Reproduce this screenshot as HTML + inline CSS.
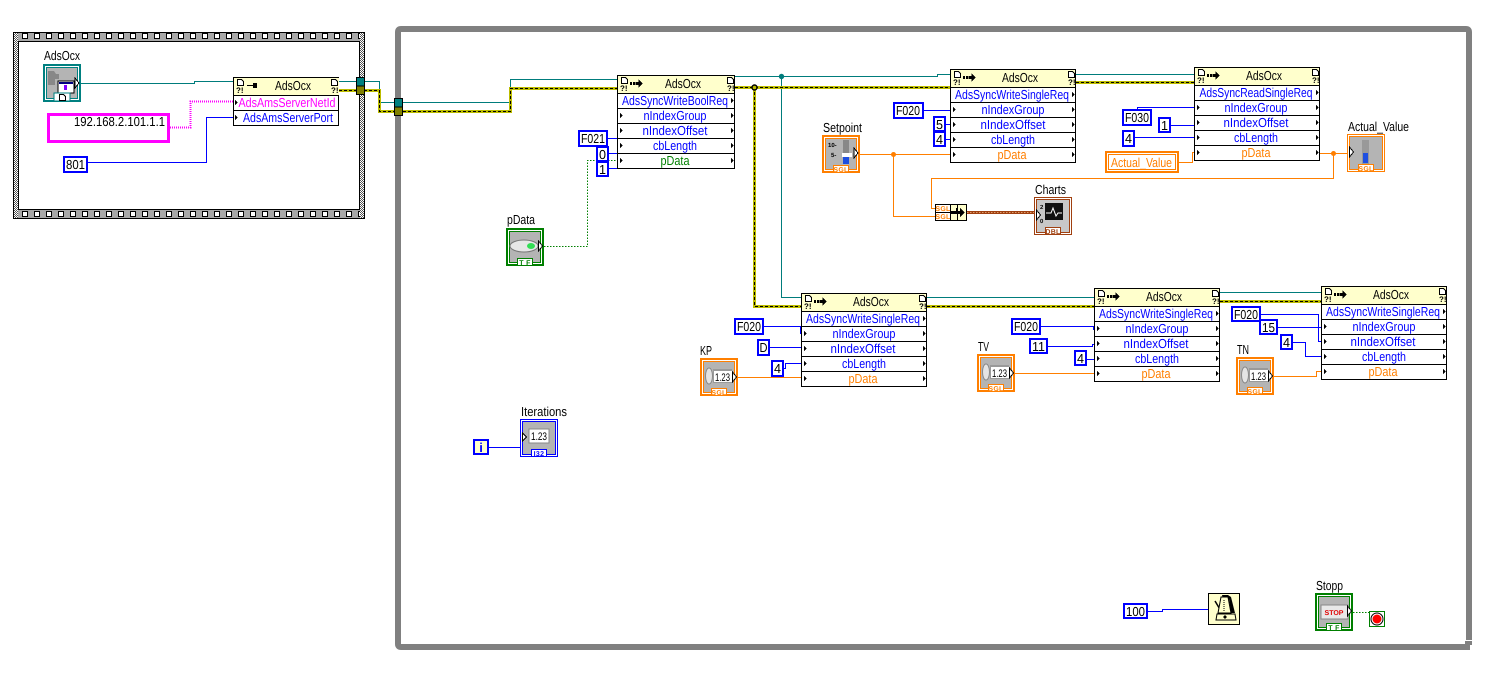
<!DOCTYPE html>
<html><head><meta charset="utf-8"><style>
html,body{margin:0;padding:0;background:#fff;width:1500px;height:675px;overflow:hidden}
svg{display:block}
text{font-family:"Liberation Sans",sans-serif;font-size:13px;fill:#000;text-rendering:geometricPrecision}
.m{text-anchor:middle}.b{fill:#00f}.o{fill:#ff7f00}.g{fill:#007f00}.p{fill:#f0f}
.q{font-size:8px;font-weight:bold}.t{font-size:7px;font-weight:bold;letter-spacing:.3px;text-anchor:middle}
.w{fill:none;stroke-width:1;shape-rendering:crispEdges}
.bl{stroke:#00f}.te{stroke:#007c7c}.or{stroke:#ff7f00}
.e1{fill:none;stroke:#bcbc00;stroke-width:3;shape-rendering:crispEdges}
.e2{fill:none;stroke:#000;stroke-width:1;stroke-dasharray:3 2;shape-rendering:crispEdges}
.c{fill:#fff;stroke:#00f;stroke-width:2;shape-rendering:crispEdges}
</style></head><body>
<svg width="1500" height="675" viewBox="0 0 1500 675" xmlns="http://www.w3.org/2000/svg">
<defs>
<pattern id="ht" x="22" y="33" width="12" height="10" patternUnits="userSpaceOnUse"><rect x=".5" y=".5" width="5" height="5" fill="#fff" stroke="#000"/></pattern>
<pattern id="hb" x="22" y="211" width="12" height="10" patternUnits="userSpaceOnUse"><rect x=".5" y=".5" width="5" height="5" fill="#fff" stroke="#000"/></pattern>
<pattern id="dz" width="2" height="2" patternUnits="userSpaceOnUse"><rect width="2" height="2" fill="#fff"/><rect width="1" height="1" fill="#555"/><rect x="1" y="1" width="1" height="1" fill="#555"/></pattern>
<g id="tl"><path d="M0 0l3 2.500-3 2.500z" fill="#000"/></g>
<g id="doc"><path d="M.5 .5h4l2 2v4h-6z" fill="#fff" stroke="#000" shape-rendering="crispEdges"/><path d="M0 0h5v1h-5z" fill="#000"/></g>
<g id="arr"><path d="M13 7h2v3h-2zM16 7h2v3h-2zM18.500 7h3v-3l4 4.500-4 4.500v-3h-3z" fill="#000"/></g>
<g id="nd126" shape-rendering="crispEdges">
<rect x=".5" y=".5" width="125" height="93" fill="#fff" stroke="#000"/>
<rect x="1" y="1" width="124" height="17" fill="#ffffcc"/>
<path d="M0 18.500h126M0 33.500h126M0 48.500h126M0 63.500h126M0 78.500h126" stroke="#000"/>
<use href="#doc" x="4" y="2"/><use href="#doc" x="118" y="2"/>
<use href="#arr"/>
<use href="#tl" x="122" y="23"/><use href="#tl" x="3" y="38"/><use href="#tl" x="122" y="38"/><use href="#tl" x="3" y="53"/><use href="#tl" x="122" y="53"/><use href="#tl" x="3" y="68"/><use href="#tl" x="122" y="68"/><use href="#tl" x="3" y="83"/><use href="#tl" x="122" y="83"/>
</g>
<g id="nd118" shape-rendering="crispEdges">
<rect x=".5" y=".5" width="117" height="93" fill="#fff" stroke="#000"/>
<rect x="1" y="1" width="116" height="17" fill="#ffffcc"/>
<path d="M0 18.500h118M0 33.500h118M0 48.500h118M0 63.500h118M0 78.500h118" stroke="#000"/>
<use href="#doc" x="4" y="2"/><use href="#doc" x="110" y="2"/>
<use href="#arr"/>
<use href="#tl" x="114" y="23"/><use href="#tl" x="3" y="38"/><use href="#tl" x="114" y="38"/><use href="#tl" x="3" y="53"/><use href="#tl" x="114" y="53"/><use href="#tl" x="3" y="68"/><use href="#tl" x="114" y="68"/><use href="#tl" x="3" y="83"/><use href="#tl" x="114" y="83"/>
</g>
<g id="numc">
<rect x="5" y="4" width="28" height="27" fill="#b4b4b4"/>
<ellipse cx="9" cy="18" rx="3.500" ry="8" fill="#e4e4e4" stroke="#888"/>
<rect x="13" y="11" width="19" height="14" fill="#9a9a9a"/><rect x="14" y="13" width="18" height="11" fill="#fff"/>
<path d="M32.500 14l4 5-4 5z" fill="#fff" stroke="#000" shape-rendering="crispEdges"/>
</g>
<g id="frameO" shape-rendering="crispEdges">
<rect x="0" y="0" width="38" height="38" fill="#ff7f00"/><rect x="2" y="2" width="34" height="34" fill="#fff"/><rect x="3" y="3" width="32" height="32" fill="#ff7f00"/><rect x="4" y="4" width="30" height="30" fill="#b4b4b4"/>
</g>
</defs>

<!-- Sequence frame -->
<g shape-rendering="crispEdges">
<rect x="13.500" y="32.500" width="351" height="186" fill="url(#dz)" stroke="#000"/>
<rect x="18" y="33" width="342" height="9" fill="#a8a8a8"/><rect x="18" y="33" width="342" height="9" fill="url(#ht)"/>
<rect x="18" y="210" width="342" height="8" fill="#a8a8a8"/><rect x="18" y="210" width="342" height="8" fill="url(#hb)"/>
<rect x="18.500" y="41.500" width="341" height="168" fill="#fff" stroke="#000"/>
</g>

<!-- While loop -->
<path d="M1469 640V32q0-3-3-3H401q-3 0-3 3V644q0 3 3 3H1467" fill="none" stroke="#808080" stroke-width="6"/>
<path d="M1465 641h7v4h-2v5h-5z" fill="#808080" shape-rendering="crispEdges"/>

<!-- Wires: reference -->
<g class="w te">
<path d="M81 83.500H194.500V81.500H233"/>
<path d="M339 81.500H379.500V102.500H394"/>
<path d="M403 102.500H510.500V79.500H617"/>
<path d="M735 76.500H937.500V74.500H950"/>
<path d="M781.500 76V297.500H801"/>
<path d="M927 297.500H1094"/>
<path d="M1220 292.500H1321"/>
<path d="M1076 74.500H1194"/>
</g>
<circle cx="781.500" cy="76.500" r="2.700" fill="#007c7c"/>

<!-- Wires: error -->
<g class="e1">
<path d="M339 90.500H379.500V111.500H394"/><path d="M403 111.500H510.500V88.500H617"/>
<path d="M735 87.500H950"/><path d="M754.500 87V306.500H801"/>
<path d="M1076 82.500H1194"/><path d="M927 306.500H1094"/><path d="M1220 301.500H1321"/>
</g>
<g class="e2">
<path d="M339 90.500H379.500V111.500H394"/><path d="M403 111.500H510.500V88.500H617"/>
<path d="M735 87.500H950"/><path d="M754.500 87V306.500H801"/>
<path d="M1076 82.500H1194"/><path d="M927 306.500H1094"/><path d="M1220 301.500H1321"/>
</g>
<circle cx="754.500" cy="87.500" r="2.500" fill="#bcbc00" stroke="#000" stroke-width="1.500"/>

<!-- Wires: string -->
<path d="M170 127.500H190.500V101.500H233" fill="none" stroke="#f0f" stroke-width="2" stroke-dasharray="1 1" shape-rendering="crispEdges"/>

<!-- Wires: numeric -->
<g class="w bl">
<path d="M88 162.500H206.500V117.500H233"/>
<path d="M608 138.500H617M608 153.500H617M608 168.500H617"/>
<path d="M923 110.500H950M945 124.500H950M945 139.500H950"/>
<path d="M1137.500 109V107.500H1194M1171 125.500H1194M1135 137.500H1194"/>
<path d="M764 326.500H800.500V333.500H801M770 347.500H801M784 368.500H785.500V363.500H801"/>
<path d="M1041 326.500H1093.500V329.500H1094M1048 346.500H1092.500V344.500H1094M1087 359.500H1094"/>
<path d="M1261 314.500H1318.500V341.500H1321M1278 327.500H1321M1293 342.500H1305.500V356.500H1321"/>
<path d="M1148 611.500H1162.500V609.500H1208"/>
<path d="M489 447.500H520"/>
</g>

<!-- Wires: orange -->
<g class="w or">
<path d="M860 154.500H950"/><path d="M893.500 154V216.500H935"/>
<path d="M935 208.500H931.500V178.500H1333.500V153.500"/>
<path d="M1320 153.500H1347"/>
<path d="M1179 162.500H1192.500V152.500H1194"/>
<path d="M738 377.500H801"/><path d="M1015 373.500H1094"/>
<path d="M1274 376.500H1316.500V371.500H1321"/>
</g>
<circle cx="893.500" cy="154.500" r="2.500" fill="#ff7f00"/><circle cx="1333.500" cy="153.500" r="2.500" fill="#ff7f00"/>

<!-- Boolean wires -->
<path d="M544 246.500H587.500V160.500H617" fill="none" stroke="#007f00" stroke-dasharray="1.500 1.500" shape-rendering="crispEdges"/>
<path d="M1353 612.500H1369" fill="none" stroke="#007f00" stroke-dasharray="1.500 1.500" shape-rendering="crispEdges"/>

<!-- Cluster wire -->
<path d="M967 212.500H1034" fill="none" stroke="#a04010" stroke-width="3" shape-rendering="crispEdges"/>
<path d="M967 212.500H1034" fill="none" stroke="#e0a070" stroke-dasharray="1.500 1.500" shape-rendering="crispEdges"/>

<!-- Tunnels -->
<g shape-rendering="crispEdges" stroke="#000">
<rect x="356.500" y="77.500" width="8" height="8.500" fill="#008080"/><rect x="356.500" y="86" width="8" height="8.500" fill="#808000"/>
<rect x="394.500" y="98.500" width="8" height="8.500" fill="#008080"/><rect x="394.500" y="107" width="8" height="8.500" fill="#808000"/>
</g>

<!-- Node 1 -->
<g transform="translate(233,77)" shape-rendering="crispEdges">
<rect x=".5" y=".5" width="105" height="48" fill="#fff" stroke="#000"/>
<rect x="1" y="1" width="105" height="17" fill="#ffffcc"/>
<path d="M0 18.500h106M0 33.500h106" stroke="#000"/>
<use href="#doc" x="4" y="2"/><use href="#doc" x="98" y="2"/>
<path d="M14 8h6v-2h4v5h-4v-2h-6z" fill="#000"/>
<use href="#tl" x="2" y="23"/><use href="#tl" x="2" y="38"/>
</g>
<text class="q" x="236" y="93">?!</text><text class="q" x="331" y="93">?!</text>
<text class="m" x="293" y="90" textLength="36" lengthAdjust="spacingAndGlyphs">AdsOcx</text>
<text class="m p" x="287" y="107" textLength="97" lengthAdjust="spacingAndGlyphs">AdsAmsServerNetId</text>
<text class="m b" x="288" y="122" textLength="90" lengthAdjust="spacingAndGlyphs">AdsAmsServerPort</text>

<!-- Node 2 -->
<use href="#nd118" x="617" y="75"/>
<text class="q" x="620" y="91">?!</text><text class="q" x="727" y="91">?!</text>
<text class="m" x="683" y="88" textLength="36" lengthAdjust="spacingAndGlyphs">AdsOcx</text>
<text class="m b" x="675" y="105" textLength="106" lengthAdjust="spacingAndGlyphs">AdsSyncWriteBoolReq</text>
<text class="m b" x="675" y="120" textLength="63" lengthAdjust="spacingAndGlyphs">nIndexGroup</text>
<text class="m b" x="675" y="135" textLength="65" lengthAdjust="spacingAndGlyphs">nIndexOffset</text>
<text class="m b" x="675" y="150" textLength="44" lengthAdjust="spacingAndGlyphs">cbLength</text>
<text class="m g" x="675" y="165" textLength="29" lengthAdjust="spacingAndGlyphs">pData</text>

<!-- Node 3 -->
<use href="#nd126" x="950" y="69"/>
<text class="q" x="953" y="85">?!</text><text class="q" x="1068" y="85">?!</text>
<text class="m" x="1020" y="82" textLength="36" lengthAdjust="spacingAndGlyphs">AdsOcx</text>
<text class="m b" x="1012" y="99" textLength="114" lengthAdjust="spacingAndGlyphs">AdsSyncWriteSingleReq</text>
<text class="m b" x="1013" y="114" textLength="63" lengthAdjust="spacingAndGlyphs">nIndexGroup</text>
<text class="m b" x="1013" y="129" textLength="65" lengthAdjust="spacingAndGlyphs">nIndexOffset</text>
<text class="m b" x="1013" y="144" textLength="44" lengthAdjust="spacingAndGlyphs">cbLength</text>
<text class="m o" x="1012" y="159" textLength="29" lengthAdjust="spacingAndGlyphs">pData</text>

<!-- Node 4 -->
<use href="#nd126" x="1194" y="67"/>
<text class="q" x="1197" y="83">?!</text><text class="q" x="1312" y="83">?!</text>
<text class="m" x="1264" y="80" textLength="36" lengthAdjust="spacingAndGlyphs">AdsOcx</text>
<text class="m b" x="1256" y="97" textLength="113" lengthAdjust="spacingAndGlyphs">AdsSyncReadSingleReq</text>
<text class="m b" x="1256" y="112" textLength="63" lengthAdjust="spacingAndGlyphs">nIndexGroup</text>
<text class="m b" x="1256" y="127" textLength="65" lengthAdjust="spacingAndGlyphs">nIndexOffset</text>
<text class="m b" x="1256" y="142" textLength="44" lengthAdjust="spacingAndGlyphs">cbLength</text>
<text class="m o" x="1256" y="157" textLength="29" lengthAdjust="spacingAndGlyphs">pData</text>

<!-- Node 5 -->
<use href="#nd126" x="801" y="293"/>
<text class="q" x="804" y="309">?!</text><text class="q" x="919" y="309">?!</text>
<text class="m" x="871" y="306" textLength="36" lengthAdjust="spacingAndGlyphs">AdsOcx</text>
<text class="m b" x="863" y="323" textLength="114" lengthAdjust="spacingAndGlyphs">AdsSyncWriteSingleReq</text>
<text class="m b" x="864" y="338" textLength="63" lengthAdjust="spacingAndGlyphs">nIndexGroup</text>
<text class="m b" x="863" y="353" textLength="65" lengthAdjust="spacingAndGlyphs">nIndexOffset</text>
<text class="m b" x="864" y="368" textLength="44" lengthAdjust="spacingAndGlyphs">cbLength</text>
<text class="m o" x="863" y="383" textLength="29" lengthAdjust="spacingAndGlyphs">pData</text>

<!-- Node 6 -->
<use href="#nd126" x="1094" y="288"/>
<text class="q" x="1097" y="304">?!</text><text class="q" x="1212" y="304">?!</text>
<text class="m" x="1164" y="301" textLength="36" lengthAdjust="spacingAndGlyphs">AdsOcx</text>
<text class="m b" x="1156" y="318" textLength="114" lengthAdjust="spacingAndGlyphs">AdsSyncWriteSingleReq</text>
<text class="m b" x="1157" y="333" textLength="63" lengthAdjust="spacingAndGlyphs">nIndexGroup</text>
<text class="m b" x="1156" y="348" textLength="65" lengthAdjust="spacingAndGlyphs">nIndexOffset</text>
<text class="m b" x="1157" y="363" textLength="44" lengthAdjust="spacingAndGlyphs">cbLength</text>
<text class="m o" x="1156" y="378" textLength="29" lengthAdjust="spacingAndGlyphs">pData</text>

<!-- Node 7 -->
<use href="#nd126" x="1321" y="286"/>
<text class="q" x="1324" y="302">?!</text><text class="q" x="1439" y="302">?!</text>
<text class="m" x="1391" y="299" textLength="36" lengthAdjust="spacingAndGlyphs">AdsOcx</text>
<text class="m b" x="1383" y="316" textLength="114" lengthAdjust="spacingAndGlyphs">AdsSyncWriteSingleReq</text>
<text class="m b" x="1384" y="331" textLength="63" lengthAdjust="spacingAndGlyphs">nIndexGroup</text>
<text class="m b" x="1383" y="346" textLength="65" lengthAdjust="spacingAndGlyphs">nIndexOffset</text>
<text class="m b" x="1384" y="361" textLength="44" lengthAdjust="spacingAndGlyphs">cbLength</text>
<text class="m o" x="1383" y="376" textLength="29" lengthAdjust="spacingAndGlyphs">pData</text>

<!-- Constants -->
<rect x="48.500" y="114.500" width="120" height="27" fill="#fff" stroke="#f0f" stroke-width="3" shape-rendering="crispEdges"/>
<text x="74" y="126" textLength="91" lengthAdjust="spacingAndGlyphs">192.168.2.101.1.1</text>
<rect class="c" x="64" y="157" width="23" height="15"/><text x="66" y="169" textLength="19" lengthAdjust="spacingAndGlyphs">801</text>

<rect class="c" x="579" y="131" width="28" height="15"/><text x="581" y="143" textLength="24" lengthAdjust="spacingAndGlyphs">F021</text>
<rect class="c" x="597" y="147" width="11" height="14"/><text class="m" x="602.500" y="159" textLength="7" lengthAdjust="spacingAndGlyphs">0</text>
<rect class="c" x="597" y="162" width="11" height="14"/><text class="m" x="602.500" y="174" textLength="7" lengthAdjust="spacingAndGlyphs">1</text>

<rect class="c" x="894" y="103" width="29" height="15"/><text x="896" y="115" textLength="24" lengthAdjust="spacingAndGlyphs">F020</text>
<rect class="c" x="934" y="117" width="11" height="14"/><text class="m" x="939.500" y="129" textLength="7" lengthAdjust="spacingAndGlyphs">5</text>
<rect class="c" x="934" y="132" width="11" height="14"/><text class="m" x="939.500" y="144" textLength="7" lengthAdjust="spacingAndGlyphs">4</text>

<rect class="c" x="1123" y="110" width="28" height="15"/><text x="1125" y="122" textLength="24" lengthAdjust="spacingAndGlyphs">F030</text>
<rect class="c" x="1159" y="118" width="11" height="14"/><text class="m" x="1164.500" y="130" textLength="7" lengthAdjust="spacingAndGlyphs">1</text>
<rect class="c" x="1123" y="131" width="11" height="15"/><text class="m" x="1128.500" y="143" textLength="7" lengthAdjust="spacingAndGlyphs">4</text>

<g shape-rendering="crispEdges">
<rect x="1105" y="151" width="74" height="22" fill="#ff7f00"/><rect x="1107" y="153" width="70" height="18" fill="#fff"/><rect x="1108.500" y="154.500" width="67" height="15" fill="#fff" stroke="#ff7f00"/>
</g>
<text class="o" x="1111" y="167" textLength="61" lengthAdjust="spacingAndGlyphs">Actual_Value</text>

<rect class="c" x="735" y="319" width="28" height="15"/><text x="737" y="331" textLength="24" lengthAdjust="spacingAndGlyphs">F020</text>
<rect class="c" x="758" y="340" width="11" height="15"/><text class="m" x="763.500" y="352" textLength="8" lengthAdjust="spacingAndGlyphs">D</text>
<rect class="c" x="772" y="361" width="11" height="15"/><text class="m" x="777.500" y="373" textLength="7" lengthAdjust="spacingAndGlyphs">4</text>

<rect class="c" x="1012" y="319" width="28" height="15"/><text x="1014" y="331" textLength="24" lengthAdjust="spacingAndGlyphs">F020</text>
<rect class="c" x="1030" y="339" width="17" height="14"/><text class="m" x="1038.500" y="351" textLength="13" lengthAdjust="spacingAndGlyphs">11</text>
<rect class="c" x="1075" y="351" width="11" height="14"/><text class="m" x="1080.500" y="363" textLength="7" lengthAdjust="spacingAndGlyphs">4</text>

<rect class="c" x="1232" y="307" width="28" height="14"/><text x="1234" y="319" textLength="24" lengthAdjust="spacingAndGlyphs">F020</text>
<rect class="c" x="1260" y="320" width="17" height="14"/><text class="m" x="1268.500" y="332" textLength="13" lengthAdjust="spacingAndGlyphs">15</text>
<rect class="c" x="1281" y="335" width="11" height="14"/><text class="m" x="1286.500" y="347" textLength="7" lengthAdjust="spacingAndGlyphs">4</text>

<rect class="c" x="1124" y="604" width="23" height="14"/><text x="1126" y="616" textLength="19" lengthAdjust="spacingAndGlyphs">100</text>

<rect x="474" y="440" width="14" height="14" fill="#ffffcc" stroke="#00f" stroke-width="2" shape-rendering="crispEdges"/>
<text class="m b" x="481" y="452" font-weight="bold">i</text>

<!-- Labels -->
<text x="44" y="60" textLength="36" lengthAdjust="spacingAndGlyphs">AdsOcx</text>
<text x="507" y="224" textLength="28" lengthAdjust="spacingAndGlyphs">pData</text>
<text x="823" y="132" textLength="39" lengthAdjust="spacingAndGlyphs">Setpoint</text>
<text x="1348" y="131" textLength="61" lengthAdjust="spacingAndGlyphs">Actual_Value</text>
<text x="1035" y="194" textLength="31" lengthAdjust="spacingAndGlyphs">Charts</text>
<text x="700" y="355" textLength="12" lengthAdjust="spacingAndGlyphs">KP</text>
<text x="978" y="351" textLength="11" lengthAdjust="spacingAndGlyphs">TV</text>
<text x="1237" y="354" textLength="12" lengthAdjust="spacingAndGlyphs">TN</text>
<text x="521" y="416" textLength="46" lengthAdjust="spacingAndGlyphs">Iterations</text>
<text x="1316" y="590" textLength="27" lengthAdjust="spacingAndGlyphs">Stopp</text>

<!-- AdsOcx terminal -->
<g transform="translate(43,64)">
<g shape-rendering="crispEdges"><rect width="38" height="38" fill="#008080"/><rect x="2" y="2" width="34" height="34" fill="#fff"/><rect x="3" y="3" width="32" height="32" fill="#008080"/><rect x="4" y="4" width="30" height="30" fill="#b4b4b4"/></g>
<path d="M5 7h6l2 3h3v5h-4v6h-7z" fill="#888"/>
<rect x="15" y="17" width="16" height="12" fill="#fff" stroke="#000"/><rect x="16" y="18" width="14" height="2" fill="#00007f"/><rect x="21" y="21" width="3" height="5" fill="#7f00ff"/>
<rect x="11" y="29" width="16" height="8" fill="#fff" stroke="#008080"/><use href="#doc" x="16" y="30"/>
<path d="M32 14l4 5-4 5z" fill="#fff" stroke="#000" shape-rendering="crispEdges"/>
</g>

<!-- pData boolean -->
<g transform="translate(506,228)">
<g shape-rendering="crispEdges"><rect width="38" height="38" fill="#007f00"/><rect x="2" y="2" width="34" height="34" fill="#fff"/><rect x="3" y="3" width="32" height="32" fill="#007f00"/><rect x="4" y="4" width="30" height="30" fill="#b4b4b4"/></g>
<ellipse cx="18" cy="18" rx="14" ry="6" fill="#e6e6e6" stroke="#777"/><ellipse cx="25" cy="18" rx="4" ry="3" fill="#33dd55"/>
<path d="M32.500 13l4 5-4 5z" fill="#fff" stroke="#000" shape-rendering="crispEdges"/>
<rect x="11.500" y="30.500" width="15" height="7" fill="#fff" stroke="#007f00" shape-rendering="crispEdges"/>
<text class="t g" x="19" y="37">T F</text>
</g>

<!-- Setpoint -->
<g transform="translate(822,135)">
<use href="#frameO"/>
<text x="6" y="12" style="font-size:6px;font-weight:bold">10-</text><text x="9" y="22" style="font-size:6px;font-weight:bold">5-</text>
<rect x="21" y="5" width="6" height="24" fill="#888"/><rect x="21" y="21" width="6" height="8" fill="#1f4fe0"/><rect x="20" y="18" width="10" height="4" fill="#fff"/>
<path d="M32 13l4 5-4 5z" fill="#fff" stroke="#000" shape-rendering="crispEdges"/>
<rect x="11.500" y="30.500" width="15" height="7" fill="#fff" stroke="#ff7f00" shape-rendering="crispEdges"/>
<text class="t o" x="19" y="37">SGL</text>
</g>

<!-- Actual_Value -->
<g transform="translate(1347,134)">
<g shape-rendering="crispEdges"><rect x=".5" y=".5" width="37" height="37" fill="#fff" stroke="#ff7f00"/><rect x="2.500" y="2.500" width="33" height="33" fill="#b4b4b4" stroke="#ff7f00"/></g>
<rect x="15" y="6" width="7" height="24" fill="#999"/><rect x="16" y="19" width="5" height="10" fill="#1f4fe0"/>
<path d="M2.500 13l4 5-4 5z" fill="#fff" stroke="#000" shape-rendering="crispEdges"/>
<rect x="11.500" y="30.500" width="15" height="7" fill="#fff" stroke="#ff7f00" shape-rendering="crispEdges"/>
<text class="t o" x="19" y="37">SGL</text>
</g>

<!-- Charts -->
<g transform="translate(1034,197)">
<g shape-rendering="crispEdges"><rect x=".5" y=".5" width="37" height="37" fill="#fff" stroke="#a04010"/><rect x="2.500" y="2.500" width="33" height="33" fill="#c8c8c8" stroke="#a04010"/></g>
<rect x="11" y="6" width="18" height="17" fill="#111"/><path d="M12 16h5l2-5 3 8 2-3h4" stroke="#fff" fill="none"/>
<text x="6" y="12" style="font-size:6px;font-weight:bold">2</text><text x="6" y="26" style="font-size:6px;font-weight:bold">0</text>
<path d="M2.500 13l4 5-4 5z" fill="#fff" stroke="#000" shape-rendering="crispEdges"/>
<rect x="11.500" y="30.500" width="15" height="7" fill="#fff" stroke="#a04010" shape-rendering="crispEdges"/>
<text class="t" x="19" y="37" style="fill:#a04010">DBL</text>
</g>

<!-- KP -->
<g transform="translate(700,358)">
<use href="#frameO"/><use href="#numc"/>
<text x="15" y="23" style="font-size:11px" textLength="15" lengthAdjust="spacingAndGlyphs">1.23</text>
<rect x="11.500" y="30.500" width="15" height="7" fill="#fff" stroke="#ff7f00" shape-rendering="crispEdges"/>
<text class="t o" x="19" y="37">SGL</text>
</g>
<!-- TV -->
<g transform="translate(977,354)">
<use href="#frameO"/><use href="#numc"/>
<text x="15" y="23" style="font-size:11px" textLength="15" lengthAdjust="spacingAndGlyphs">1.23</text>
<rect x="11.500" y="30.500" width="15" height="7" fill="#fff" stroke="#ff7f00" shape-rendering="crispEdges"/>
<text class="t o" x="19" y="37">SGL</text>
</g>
<!-- TN -->
<g transform="translate(1236,357)">
<use href="#frameO"/><use href="#numc"/>
<text x="15" y="23" style="font-size:11px" textLength="15" lengthAdjust="spacingAndGlyphs">1.23</text>
<rect x="11.500" y="30.500" width="15" height="7" fill="#fff" stroke="#ff7f00" shape-rendering="crispEdges"/>
<text class="t o" x="19" y="37">SGL</text>
</g>

<!-- Iterations -->
<g transform="translate(520,419)">
<g shape-rendering="crispEdges"><rect x=".5" y=".5" width="37" height="37" fill="#fff" stroke="#00f"/><rect x="2.500" y="2.500" width="33" height="33" fill="#b4b4b4" stroke="#00f"/></g>
<rect x="9" y="10" width="20" height="14" fill="#fff" stroke="#888"/>
<text x="11" y="21" style="font-size:11px" textLength="16" lengthAdjust="spacingAndGlyphs">1.23</text>
<path d="M2.500 14l4 4-4 4z" fill="#fff" stroke="#000" shape-rendering="crispEdges"/>
<rect x="11.500" y="30.500" width="15" height="7" fill="#fff" stroke="#00f" shape-rendering="crispEdges"/>
<text class="t b" x="19" y="37">I32</text>
</g>

<!-- Stopp -->
<g transform="translate(1315,593)">
<g shape-rendering="crispEdges"><rect width="38" height="38" fill="#007f00"/><rect x="2" y="2" width="34" height="34" fill="#fff"/><rect x="3" y="3" width="32" height="32" fill="#007f00"/><rect x="4" y="4" width="30" height="30" fill="#b4b4b4"/></g>
<rect x="6" y="12" width="27" height="14" fill="#e8e8e8" stroke="#888"/>
<text class="m" x="19" y="22" style="font-size:7px;font-weight:bold;fill:#e00000">STOP</text>
<path d="M32.500 13l4 5-4 5z" fill="#fff" stroke="#000" shape-rendering="crispEdges"/>
<rect x="11.500" y="30.500" width="15" height="7" fill="#fff" stroke="#007f00" shape-rendering="crispEdges"/>
<text class="t g" x="19" y="37">T F</text>
</g>

<!-- Wait -->
<g transform="translate(1208,593)">
<rect x=".5" y=".5" width="31" height="31" fill="#ffffcc" stroke="#000" shape-rendering="crispEdges"/>
<path d="M14 2h6l3 2 4 16h-4l-2-14h-6z" fill="#000"/>
<path d="M7 8l6 10" stroke="#000" stroke-width="1.500"/>
<path d="M13 4h7l3 16h-13z" fill="#ffffcc" stroke="#000"/>
<path d="M16 7v11" stroke="#000" stroke-dasharray="1 1"/>
<path d="M9 21h18l1 6h-20z" fill="#ffffcc" stroke="#000"/>
<path d="M17 22l2 2-2 2-2-2z" fill="#000"/>
</g>

<!-- Stop terminal -->
<g transform="translate(1369,611)">
<rect x=".5" y=".5" width="15" height="15" fill="#fff" stroke="#007f00" shape-rendering="crispEdges"/>
<circle cx="8" cy="8" r="6" fill="#fff" stroke="#000"/><circle cx="8" cy="8" r="4.500" fill="#f00"/>
</g>

<!-- Bundle -->
<g transform="translate(935,204)" shape-rendering="crispEdges">
<rect x=".5" y=".5" width="31" height="16" fill="#ffffcc" stroke="#000"/>
<rect x=".5" y=".5" width="15" height="8" fill="#fff" stroke="#000"/><rect x=".5" y="8.500" width="15" height="8" fill="#fff" stroke="#000"/>
<path d="M22.500 0v17" stroke="#000"/>
<path d="M15 7h6v-3h2v3h2v-3l5 4.500-5 4.500v-3h-10z" fill="#000"/>
</g>
<text class="t o" x="943" y="211">SGL</text><text class="t o" x="943" y="219">SGL</text>
</svg>
</body></html>
